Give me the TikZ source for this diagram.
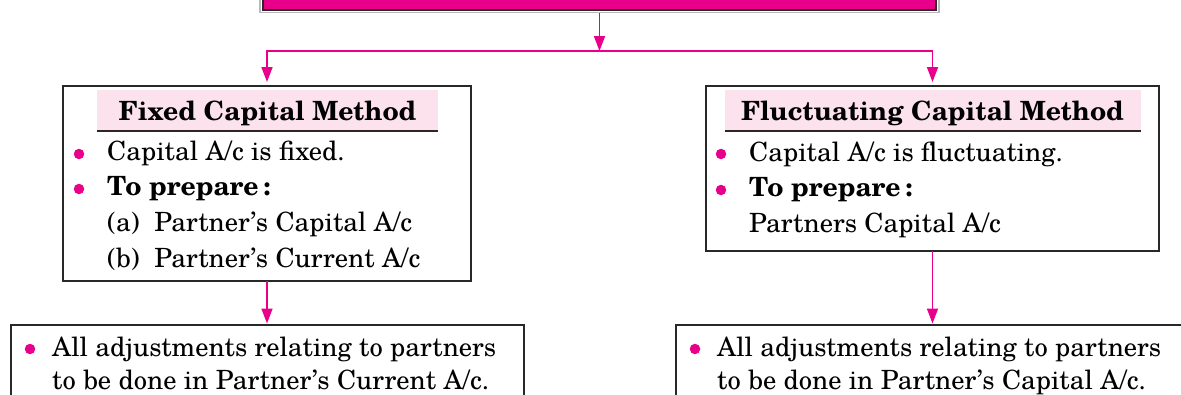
\documentclass[tikz,border=0pt]{standalone}
\usepackage{fontspec}
\setmainfont{TeX Gyre Schola}
\usetikzlibrary{arrows.meta}

\definecolor{mag}{RGB}{232,0,138}
\definecolor{bandpink}{RGB}{252,226,236}
\definecolor{framedark}{RGB}{48,36,42}
\definecolor{boxline}{RGB}{40,40,40}

\begin{document}
\begin{tikzpicture}[x=1pt,y=-1pt,
  box/.style={draw=boxline, line width=1.3pt, fill=white, inner sep=0pt, outer sep=0pt, anchor=north west},
  band/.style={fill=bandpink, inner sep=0pt, outer sep=0pt, anchor=north west},
  head/.style={font=\fontsize{26.5}{32}\selectfont\bfseries, inner sep=0pt, anchor=base},
  txt/.style={font=\fontsize{26.5}{32}\selectfont, inner sep=0pt, anchor=base west},
  btxt/.style={font=\fontsize{26.5}{32}\selectfont\bfseries, inner sep=0pt, anchor=base west},
  dot/.style={circle, fill=mag, minimum size=10.5pt, inner sep=0pt},
  link/.style={draw=mag, line width=1.7pt, -{Triangle[length=15pt,width=11pt]}},
  rule/.style={draw=framedark, line width=2.2pt}
]
\useasboundingbox (0,0) rectangle (1181,394);
\clip (0,0) rectangle (1181,394);

% heading banner (only its lower edge is inside the page)
\node[draw=gray!55, line width=1.2pt, minimum width=679pt, minimum height=80pt,
      inner sep=0pt, anchor=south] (top) at (599.5,13) {};
\node[fill=mag, draw=framedark, line width=2pt, minimum width=673pt, minimum height=80pt,
      inner sep=0pt, anchor=south] (topin) at (599.5,10.5) {};

% method boxes
\node[box, minimum width=408pt, minimum height=195pt] (fixed) at (63,86) {};
\node[box, minimum width=453pt, minimum height=165pt] (fluct) at (706,86) {};

% result boxes
\node[box, minimum width=513pt, minimum height=120pt] (fixedres) at (11,325) {};
\node[box, minimum width=560pt, minimum height=120pt] (fluctres) at (676,325) {};

% connectors
\coordinate (fork) at (599.5,51);
\draw[link] (top.south) -- (fork);
\draw[link, shorten >=4pt] (fork) -| (fixed.north);
\draw[link, shorten >=4pt] (fork) -| (fluct.north);
\draw[link, shorten >=1.5pt] (fixed.south) -- (fixed.south |- fixedres.north);
\draw[link, shorten >=1.5pt] (fluct.south) -- (fluct.south |- fluctres.north);

% fixed capital method
\node[band, minimum width=341pt, minimum height=41pt] (fixedband) at (97,90) {};
\draw[rule] (fixedband.south west) -- (fixedband.south east);
\node[head] (fixedhead) at (267.5,120) {Fixed Capital Method};
\node[dot] (fd1) at (79,154) {};
\node[txt] (ft1) at (107,160) {Capital A/c is fixed.};
\node[dot] (fd2) at (79,189) {};
\node[btxt] (ft2) at (107,195) {To prepare\,:};
\node[txt] (ft3) at (107,231) {(a)\ \ Partner’s Capital A/c};
\node[txt] (ft4) at (107,267) {(b)\ \ Partner’s Current A/c};

% fluctuating capital method
\node[band, minimum width=416pt, minimum height=41pt] (fluctband) at (725,90) {};
\draw[rule] (fluctband.south west) -- (fluctband.south east);
\node[head] (fluchead) at (932.5,120) {Fluctuating Capital Method};
\node[dot] (ud1) at (721,154) {};
\node[txt] (ut1) at (749,161) {Capital A/c is fluctuating.};
\node[dot] (ud2) at (721,190) {};
\node[btxt] (ut2) at (749,196) {To prepare\,:};
\node[txt] (ut3) at (749,232) {Partners Capital A/c};

% adjustments
\node[dot] (rd1) at (30,349) {};
\node[txt] (rt1) at (52,356) {All adjustments relating to partners};
\node[txt] (rt2) at (52,389) {to be done in Partner’s Current A/c.};
\node[dot] (sd1) at (695,349) {};
\node[txt] (st1) at (717,356) {All adjustments relating to partners};
\node[txt] (st2) at (717,389) {to be done in Partner’s Capital A/c.};
\end{tikzpicture}
\end{document}
